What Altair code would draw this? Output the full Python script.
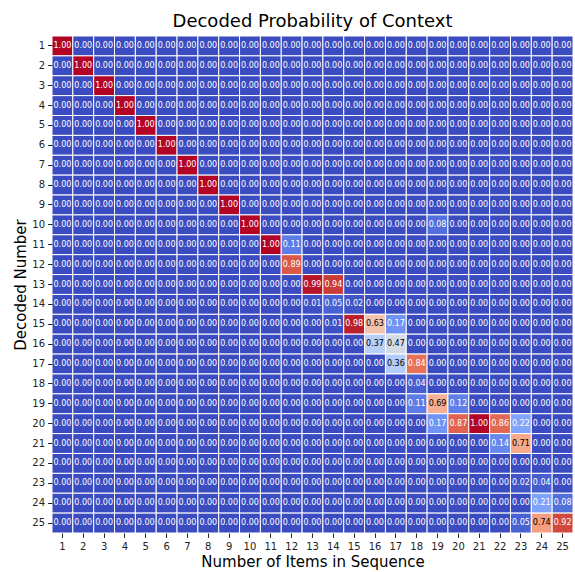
import altair as alt
import pandas as pd

# Axis categories
n_items = list(range(1, 26))   # number of items in sequence (columns)
decoded = list(range(1, 26))   # decoded number (rows)

# Non-zero cells: decoded number, number of items, probability
nz_decoded = [1, 2, 3, 4, 5, 6, 7, 8, 9,
              10, 10, 11, 11, 12, 13, 13, 14, 14, 14,
              15, 15, 15, 15, 16, 16, 17, 17, 18, 19, 19, 19,
              20, 20, 20, 20, 20, 21, 21, 23, 23, 24, 24, 25, 25, 25]
nz_items = [1, 2, 3, 4, 5, 6, 7, 8, 9,
            10, 19, 11, 12, 12, 13, 14, 13, 14, 15,
            14, 15, 16, 17, 16, 17, 17, 18, 18, 18, 19, 20,
            19, 20, 21, 22, 23, 22, 23, 23, 24, 24, 25, 23, 24, 25]
nz_prob = [1.00, 1.00, 1.00, 1.00, 1.00, 1.00, 1.00, 1.00, 1.00,
           1.00, 0.08, 1.00, 0.11, 0.89, 0.99, 0.94, 0.01, 0.05, 0.02,
           0.01, 0.98, 0.63, 0.17, 0.37, 0.47, 0.36, 0.84, 0.04, 0.11, 0.69, 0.12,
           0.17, 0.87, 1.00, 0.86, 0.22, 0.14, 0.71, 0.02, 0.04, 0.21, 0.08, 0.05, 0.74, 0.92]

# Diverging blue-white-red palette (cool to warm)
cw_stops = [i / 16 for i in range(17)]
cw_colors = ["#3b4cc0", "#4d68d7", "#6282ea", "#779af7", "#8db0fe", "#a3c2ff",
             "#b8d0f9", "#ccd9ee", "#dddddd", "#ecd3c5", "#f5c4ad", "#f7b194",
             "#f49a7b", "#ec7f63", "#de604d", "#cb3e38", "#b40426"]

lookup = {(d, k): p for d, k, p in zip(nz_decoded, nz_items, nz_prob)}
rows = []
for d in decoded:
    for k in n_items:
        rows.append({"decoded": d, "items": k, "p": lookup.get((d, k), 0.0)})
df = pd.DataFrame(rows)

font = "DejaVu Sans"

x = alt.X("items:O", title="Number of Items in Sequence",
          scale=alt.Scale(domain=n_items, paddingInner=0, paddingOuter=0),
          axis=alt.Axis(labelAngle=0))
y = alt.Y("decoded:O", title="Decoded Number",
          scale=alt.Scale(domain=decoded, paddingInner=0, paddingOuter=0))

cells = alt.Chart(df).mark_rect(stroke="white", strokeWidth=1).encode(
    x=x, y=y,
    color=alt.Color("p:Q", legend=None,
                    scale=alt.Scale(domain=cw_stops, range=cw_colors)),
)

labels = alt.Chart(df).mark_text(font=font, fontSize=8).encode(
    x=x, y=y,
    text=alt.Text("p:Q", format=".2f"),
    color=alt.condition("datum.p >= 0.3 && datum.p <= 0.8",
                        alt.value("#000000"), alt.value("#ffffff")),
)

chart = (cells + labels).properties(
    width=521, height=497,
    autosize=alt.AutoSizeParams(type="none"),
    padding={"left": 52, "top": 36, "right": 2, "bottom": 39},
    title=alt.TitleParams("Decoded Probability of Context", font=font,
                          fontSize=18, fontWeight="normal", color="#000000",
                          anchor="middle", baseline="alphabetic", offset=11,
                          dy=20),
).configure_view(stroke=None).configure_axis(
    domain=False, grid=False,
    labelFont=font, labelFontSize=10, labelColor="#222222",
    tickColor="#222222", tickSize=4.4, tickWidth=1, labelPadding=3,
    titleFont=font, titleFontSize=15, titleFontWeight="normal",
    titleColor="#000000", titlePadding=3,
).configure_axisBottom(labelPadding=4).configure_axisLeft(labelPadding=3)

chart.save("out.html", embed_options={"renderer": "svg", "actions": False})
